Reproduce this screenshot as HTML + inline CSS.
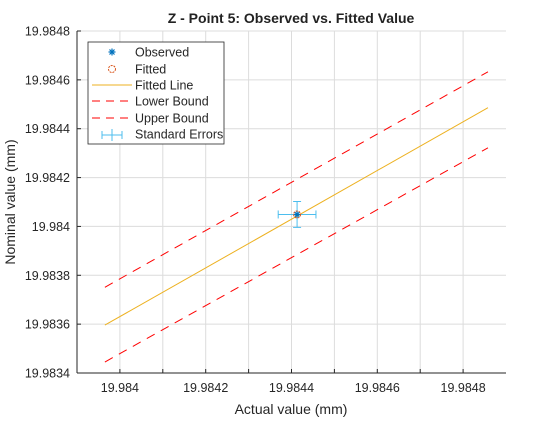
<!DOCTYPE html>
<html><head><meta charset="utf-8"><style>
body{margin:0;background:#fff;}
text{font-family:"Liberation Sans",sans-serif;}
</style></head><body>
<svg id="c" width="560" height="420" xmlns="http://www.w3.org/2000/svg">
<rect width="560" height="420" fill="#fff"/>
<g id="grid"></g><g id="axes"></g><g id="marks"></g>
<text x="291" y="23" text-anchor="middle" font-size="14" font-weight="bold" fill="#222">Z - Point 5: Observed vs. Fitted Value</text>
<text x="291" y="414" text-anchor="middle" font-size="14" fill="#262626">Actual value (mm)</text>
<text transform="translate(15,202) rotate(-90)" text-anchor="middle" font-size="14" fill="#262626">Nominal value (mm)</text>
<g>
<rect x="88" y="42" width="136" height="102" fill="#fff" stroke="#262626" stroke-width="0.8"/>
<g stroke="#0072bd" stroke-width="1.2"><line x1="108.5" y1="52" x2="115.5" y2="52"/><line x1="112" y1="48.5" x2="112" y2="55.5"/><line x1="109.5" y1="49.5" x2="114.5" y2="54.5"/><line x1="114.5" y1="49.5" x2="109.5" y2="54.5"/></g>
<text x="135" y="53" font-size="12.5" fill="#262626" dominant-baseline="middle">Observed</text>
<circle cx="112" cy="69" r="3.5" fill="none" stroke="#d95319" stroke-dasharray="2,1"/>
<text x="135" y="70" font-size="12.5" fill="#262626" dominant-baseline="middle">Fitted</text>
<line x1="92" y1="85" x2="132" y2="85" stroke="#edb120"/>
<text x="135" y="86" font-size="12.5" fill="#262626" dominant-baseline="middle">Fitted Line</text>
<line x1="92" y1="101" x2="132" y2="101" stroke="#ff0000" stroke-dasharray="8,6"/>
<text x="135" y="102" font-size="12.5" fill="#262626" dominant-baseline="middle">Lower Bound</text>
<line x1="92" y1="118" x2="132" y2="118" stroke="#ff0000" stroke-dasharray="8,6"/>
<text x="135" y="119" font-size="12.5" fill="#262626" dominant-baseline="middle">Upper Bound</text>
<g stroke="#4dbeee"><line x1="102" y1="135" x2="122" y2="135"/><line x1="102" y1="131" x2="102" y2="139"/><line x1="122" y1="131" x2="122" y2="139"/><line x1="112" y1="129" x2="112" y2="141"/></g>
<text x="135" y="135" font-size="12.5" fill="#262626" dominant-baseline="middle">Standard Errors</text>
</g>
</svg>
<script>
const xDomain=[19.9839,19.9849];
const yDomain=[19.9834,19.9848];
const xTicks=[19.984,19.9841,19.9842,19.9843,19.9844,19.9845,19.9846,19.9847,19.9848];
const xTickLabels=["19.984","","19.9842","","19.9844","","19.9846","","19.9848"];
const yTicks=[19.9834,19.9836,19.9838,19.984,19.9842,19.9844,19.9846,19.9848];
const yTickLabels=["19.9834","19.9836","19.9838","19.984","19.9842","19.9844","19.9846","19.9848"];
const fitX=[19.983965,19.984858];
const fitY=[19.983596,19.984486];
const lowerY=[19.983445,19.984322];
const upperY=[19.983751,19.984633];
const obsX=[19.984413];
const obsY=[19.984049];
const errX=[0.000044];
const errY=[0.000053];
const L=77,R=506,T=31,B=373;
const sx=v=>L+(v-xDomain[0])/(xDomain[1]-xDomain[0])*(R-L);
const sy=v=>B-(v-yDomain[0])/(yDomain[1]-yDomain[0])*(B-T);
const NS="http://www.w3.org/2000/svg";
function mk(p,t,a){const e=document.createElementNS(NS,t);for(const k in a)e.setAttribute(k,a[k]);p.appendChild(e);return e;}
const grid=document.getElementById('grid'),axes=document.getElementById('axes'),marks=document.getElementById('marks');
xTicks.forEach((t,i)=>{const x=sx(t);
const g=mk(grid,'line',{x1:x,x2:x,y1:T,y2:B,stroke:'#dcdcdc'});


mk(axes,'line',{x1:x,x2:x,y1:B,y2:B-4,stroke:'#262626'});
if(xTickLabels[i]){const tx=mk(axes,'text',{x:x,y:B+19,'text-anchor':'middle','font-size':12.5,fill:'#262626'});tx.textContent=xTickLabels[i];

}});
yTicks.forEach((t,i)=>{const y=sy(t);
const g=mk(grid,'line',{x1:L,x2:R,y1:y,y2:y,stroke:'#dcdcdc'});


mk(axes,'line',{x1:L,x2:L+4,y1:y,y2:y,stroke:'#262626'});
const tx=mk(axes,'text',{x:L-7,y:y+4.5,'text-anchor':'end','font-size':12.5,fill:'#262626'});tx.textContent=yTickLabels[i];

});
const xa=mk(axes,'line',{x1:L,x2:R,y1:B,y2:B,stroke:'#262626'});


const ya=mk(axes,'line',{x1:L,x2:L,y1:T,y2:B,stroke:'#262626'});


const fl=mk(marks,'line',{x1:sx(fitX[0]),y1:sy(fitY[0]),x2:sx(fitX[1]),y2:sy(fitY[1]),stroke:'#edb120'});


const lb=mk(marks,'line',{x1:sx(fitX[0]),y1:sy(lowerY[0]),x2:sx(fitX[1]),y2:sy(lowerY[1]),stroke:'#ff0000','stroke-dasharray':'9,7'});


const ub=mk(marks,'line',{x1:sx(fitX[0]),y1:sy(upperY[0]),x2:sx(fitX[1]),y2:sy(upperY[1]),stroke:'#ff0000','stroke-dasharray':'9,7'});


obsX.forEach((v,i)=>{const cx=sx(v),cy=sy(obsY[i]);
const x0=sx(v-errX[i]),x1=sx(v+errX[i]),y0=sy(obsY[i]-errY[i]),y1=sy(obsY[i]+errY[i]);
const eb=mk(marks,'g',{stroke:'#4dbeee'});


mk(eb,'line',{x1:x0,x2:x1,y1:cy,y2:cy});mk(eb,'line',{x1:x0,x2:x0,y1:cy-4,y2:cy+4});mk(eb,'line',{x1:x1,x2:x1,y1:cy-4,y2:cy+4});
mk(eb,'line',{x1:cx,x2:cx,y1:y0,y2:y1});mk(eb,'line',{x1:cx-4,x2:cx+4,y1:y0,y2:y0});mk(eb,'line',{x1:cx-4,x2:cx+4,y1:y1,y2:y1});
const c=mk(marks,'circle',{cx:cx,cy:cy,r:3.5,fill:'none',stroke:'#d95319','stroke-dasharray':'2,1'});


const o=mk(marks,'g',{stroke:'#0072bd','stroke-width':1.2});


mk(o,'line',{x1:cx-3,x2:cx+3,y1:cy,y2:cy});mk(o,'line',{x1:cx,x2:cx,y1:cy-3,y2:cy+3});
mk(o,'line',{x1:cx-2.2,x2:cx+2.2,y1:cy-2.2,y2:cy+2.2});mk(o,'line',{x1:cx+2.2,x2:cx-2.2,y1:cy-2.2,y2:cy+2.2});});
</script>
</body></html>
